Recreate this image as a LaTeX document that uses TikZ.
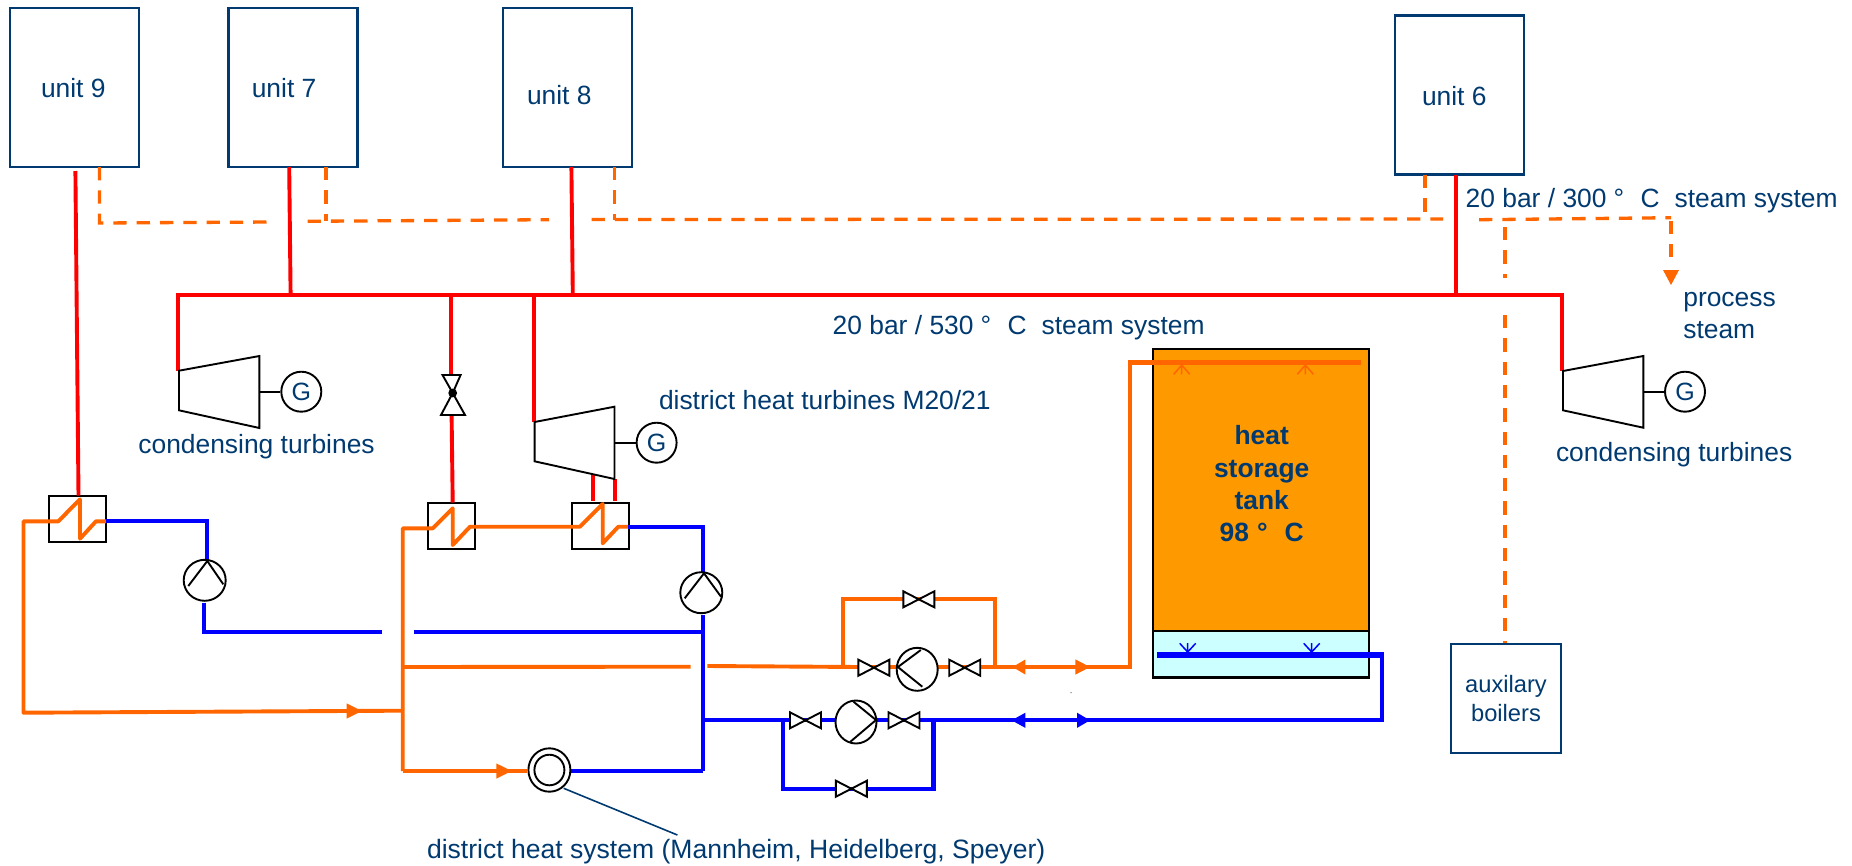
\documentclass[tikz,border=0pt]{standalone}
\usepackage{fontspec}
\setmainfont{Liberation Sans}
\usetikzlibrary{shapes.geometric}
\definecolor{navy}{HTML}{003A70}
\definecolor{pipeorange}{HTML}{FF6600}
\definecolor{pipered}{HTML}{FF0000}
\definecolor{pipeblue}{HTML}{0000FF}
\definecolor{tankorange}{HTML}{FF9900}
\definecolor{tankcyan}{HTML}{CCFFFF}
\newcommand{\valveat}[3]{%
  \node[valvenode] (#1) at (#2,#3) {};
  \draw[valveline] (#1.north west) -- (#1.south east) -- (#1.north east) -- (#1.south west) -- cycle;}
\newcommand{\tipright}[3]{\fill[pipeorange] (#1,#3-7.6) -- (#2,#3) -- (#1,#3+7.6) -- cycle;}
\newcommand{\tipleft}[4]{\fill[#4] (#1,#3-7.6) -- (#2,#3) -- (#1,#3+7.6) -- cycle;}
\newcommand{\dgsp}{\hspace{7pt}°\hspace{16.5pt}}
\tikzset{
  x=1pt,y=-1pt,
  lbl/.style={inner sep=0pt,outer sep=0pt,text=navy,anchor=base west,font=\fontsize{26.4pt}{32pt}\selectfont},
  unitbox/.style={draw=navy,line width=2.2pt,fill=white,inner sep=0pt},
  hxbox/.style={draw=black,line width=2.2pt,inner sep=0pt},
  gen/.style={draw=black,line width=1.9pt,circle,minimum size=40pt,inner sep=0pt,text=navy,font=\fontsize{25pt}{25pt}\selectfont},
  pumpnode/.style={draw=black,line width=1.9pt,ellipse,minimum width=42pt,minimum height=41pt,inner sep=0pt},
  valvenode/.style={inner sep=0pt,outer sep=0pt,minimum width=31pt,minimum height=16pt},
  valveline/.style={draw=black,fill=white,line width=1.9pt},
  blk/.style={draw=black,line width=1.9pt},
  redpipe/.style={draw=pipered,line width=3.9pt},
  orpipe/.style={draw=pipeorange,line width=3.9pt},
  blpipe/.style={draw=pipeblue,line width=4.2pt},
  steamdash/.style={draw=pipeorange,line width=3.3pt,dash pattern=on 13.3pt off 10pt},
}
\begin{document}
\begin{tikzpicture}
\useasboundingbox (0,0) rectangle (1852,865);
% tank
\fill[tankorange] (1153.3,349) rectangle (1369.3,630.7);
\fill[tankcyan] (1153.3,630.7) rectangle (1369.3,678.3);
\draw[black,line width=2.2pt] (1153.3,678.3) -- (1153.3,349) -- (1369.3,349) -- (1369.3,678.3);
\draw[black,line width=2.2pt] (1153.3,630.7) -- (1369.3,630.7);
\draw[black,line width=3.6pt] (1152.2,677.5) -- (1370.4,677.5);
\node[inner sep=0pt,align=center,text=navy,font=\fontsize{26.4pt}{32.3pt}\selectfont\bfseries] (tanklabel) at (1261.7,483.8) {heat\\storage\\tank\\98\hspace{8pt}°\hspace{17pt}C};
% units
\node[unitbox,minimum width=129pt,minimum height=159pt] (u9) at (74.3,87.2) {};
\node[unitbox,minimum width=129pt,minimum height=159pt] (u7) at (293,87.2) {};
\node[unitbox,minimum width=129pt,minimum height=159pt] (u8) at (567.5,87.2) {};
\node[unitbox,minimum width=129pt,minimum height=159pt] (u6) at (1459.5,95) {};
\node[lbl] (t9) at (41,97.7) {unit 9};
\node[lbl] (t7) at (251.8,97.7) {unit 7};
\node[lbl] (t8) at (527,104.3) {unit 8};
\node[lbl] (t6) at (1422,105) {unit 6};
\node[unitbox,minimum width=110.6pt,minimum height=109.3pt] (aux) at (1506,698.6) {};
\node[inner sep=0pt,align=center,text=navy,font=\fontsize{23.7pt}{29pt}\selectfont] (auxt) at (1506,698.5) {auxilary\\boilers};
% heat exchangers
\node[hxbox,minimum width=56.7pt,minimum height=46.6pt] (hx1) at (77.7,519) {};
\node[hxbox,minimum width=46.7pt,minimum height=46.3pt] (hx2) at (451.7,525.9) {};
\node[hxbox,minimum width=56.7pt,minimum height=46.3pt] (hx3) at (600.7,525.9) {};
% generators
\node[gen] (g1) at (301.3,391.7) {G};
\node[gen] (g2) at (656.6,442.7) {G};
\node[gen] (g3) at (1685,391.7) {G};
% junction coordinates
\coordinate (busL) at (178,295); \coordinate (busR) at (1561.6,295);
\coordinate (t1in) at (178,370.7); \coordinate (t3in) at (1561.6,370.7);
\coordinate (b7) at (290.6,295); \coordinate (b8) at (572.8,295); \coordinate (b6) at (1455.7,295);
\coordinate (bV) at (450.6,295); \coordinate (bM) at (533.8,295);
\coordinate (u9r) at (75.4,171); \coordinate (hx1r) at (78.5,495.5);
\coordinate (u7r) at (289.2,167); \coordinate (u8r) at (571.4,167); \coordinate (u6r) at (1455.7,175);
\coordinate (tMin) at (533.8,421.7);
\coordinate (vTop) at (450.6,376); \coordinate (vBot) at (451.6,415); \coordinate (hx2r) at (452.7,502.5);
% steam (red)
\draw[redpipe] (busL) -- (busR);
\draw[redpipe] (t1in) -- ([yshift=1.9pt]busL);
\draw[redpipe] ([yshift=1.9pt]busR) -- (t3in);
\draw[redpipe] (u9r) -- (hx1r);
\draw[redpipe] (u7r) -- (b7);
\draw[redpipe] (u8r) -- (b8);
\draw[redpipe] (u6r) -- (b6);
\draw[redpipe] (bV) -- (vTop);
\draw[redpipe] (vBot) -- (hx2r);
\draw[redpipe] (bM) -- (tMin);
\coordinate (s1a) at (592.7,475); \coordinate (s1b) at (592.7,501);
\coordinate (s2a) at (614.7,479); \coordinate (s2b) at (614.7,501);
\draw[redpipe] (s1a) -- (s1b);
\draw[redpipe] (s2a) -- (s2b);
% turbines
\coordinate (t1a) at (179,370.7); \coordinate (t1b) at (259.4,356); \coordinate (t1c) at (259.4,428); \coordinate (t1d) at (179,410.3);
\draw[blk] (t1a) -- (t1b) -- (t1c) -- (t1d) -- cycle;
\draw[blk] (259.4,391.7) -- (g1.west);
\coordinate (t2a) at (534.6,422); \coordinate (t2b) at (614.5,406.7); \coordinate (t2c) at (614.5,479); \coordinate (t2d) at (534.6,461.3);
\draw[blk] (t2a) -- (t2b) -- (t2c) -- (t2d) -- cycle;
\draw[blk] (614.5,442.7) -- (g2.west);
\coordinate (t3a) at (1563,371); \coordinate (t3b) at (1643.3,356); \coordinate (t3c) at (1643.3,427.7); \coordinate (t3d) at (1563,410.3);
\draw[blk] (t3a) -- (t3b) -- (t3c) -- (t3d) -- cycle;
\draw[blk] (1643.3,391.7) -- (g3.west);
% throttle valve
\draw[valveline] (442.5,375) -- (460.6,375) -- (452.7,393) -- (465,415) -- (441,415) -- (452.7,393) -- cycle;
\fill[black] (452.7,393) circle (4.4pt);
% 20 bar / 300 dashed
\draw[steamdash] (99.5,167) -- (99.5,223) -- (271,222);
\draw[steamdash] (307.6,221.3) -- (549,219.7);
\draw[steamdash] (326,167) -- (326,221);
\draw[steamdash] (591.5,219.5) -- (1443,219);
\draw[steamdash] (614.7,167) -- (614.7,219.5);
\draw[steamdash] (1425,175) -- (1425,219);
\draw[steamdash] (1479,219.7) -- (1671,217.7);
\draw[steamdash] (1671,220.5) -- (1671,258);
\draw[steamdash] (1505,227) -- (1505,278);
\draw[steamdash] (1505,315) -- (1505,643);
\fill[pipeorange] (1663,270) -- (1679,270) -- (1671,285) -- cycle;
% left exchanger loop
\coordinate (lbot) at (23.5,712.7); \coordinate (ltop) at (23.5,521.3);
\coordinate (z1a) at (58.3,521.3); \coordinate (z1b) at (80,499.3); \coordinate (z1c) at (80,538.7); \coordinate (z1d) at (96,521.3); \coordinate (z1e) at (106,521.3);
\coordinate (main) at (400.8,710.7);
\draw[orpipe,line join=round] (main) -- (lbot) -- (ltop) -- (z1a) -- (z1b) -- (z1c) -- (z1d) -- (z1e);
\tipright{346.7}{361.7}{711}
\coordinate (pu1in) at (206.7,560); \coordinate (pu1out) at (204.3,602.7); \coordinate (bl1) at (204.3,631.7);
\draw[blpipe] (z1e) -- (206.7,521.3) -- (pu1in);
\draw[blpipe] (pu1out) -- (bl1) -- (381.7,631.7);
\node[pumpnode] (pu1) at (204.7,580.3) {};
\draw[blk] (188.3,586) -- (207.3,561) -- (223.3,584.3);
% main orange collector and HX2/HX3
\coordinate (hxL) at (402.7,528.3); \coordinate (hxB) at (402.7,771);
\coordinate (z2a) at (432.7,528.3); \coordinate (z2b) at (452.7,508.3); \coordinate (z2c) at (452.7,545); \coordinate (z2d) at (470,526.7);
\coordinate (z3a) at (580,526.7); \coordinate (z3b) at (602.7,504); \coordinate (z3c) at (602.7,543.3); \coordinate (z3d) at (618.3,526.7); \coordinate (z3e) at (628.3,526.7);
\draw[orpipe,line join=round] (hxB) -- (hxL) -- (z2a) -- (z2b) -- (z2c) -- (z2d) -- (z3a) -- (z3b) -- (z3c) -- (z3d) -- (z3e);
\draw[blpipe] (z3e) -- (702.7,526.7) -- (702.7,572.7);
\node[pumpnode] (pu3) at (701.3,592.7) {};
\draw[blk] (684.7,598.3) -- (704,573.3) -- (721,596.7);
\coordinate (blj) at (702.6,615);
\coordinate (blb) at (702.6,771);
\draw[blpipe] (blj) -- (blb);
\draw[blpipe] (414.3,631.7) -- (702.6,631.7);
\draw[orpipe] (402.7,667) -- (690.7,666.7);
% hot line to tank
\coordinate (tankin) at (1361,362.7);
\draw[orpipe] (707.3,666) -- (860,667);
\draw[orpipe] (843.3,667) -- (843.3,599.3) -- (994.8,599.3) -- (994.8,667);
\draw[draw=pipeorange,line width=4.4pt] (860,667) -- (1130,667);
\draw[orpipe] (1130,668.9) -- (1130,362.7);
\draw[draw=pipeorange,line width=5.2pt] (1128,362.7) -- (tankin);
\tipleft{1025.4}{1012.7}{667}{pipeorange}
\tipleft{1075.4}{1090}{667}{pipeorange}
\valveat{vo1}{918.8}{599.3}
\valveat{vo2}{873.9}{667.7}
\valveat{vo3}{964.7}{667.7}
\node[pumpnode,fill=white,minimum width=41pt,minimum height=43pt] (puo) at (917.2,669.3) {};
\draw[blk] (920.8,650) -- (897.9,667) -- (922.3,686.7);
% district system
\node[draw=black,line width=1.9pt,ellipse,minimum width=42pt,minimum height=43.4pt,inner sep=0pt] (dh) at (549.4,770) {};
\node[draw=black,line width=1.9pt,ellipse,minimum width=30pt,minimum height=30.6pt,inner sep=0pt] (dhi) at (549.4,770) {};
\draw[orpipe] (hxB) -- (dh.west |- hxB);
\tipright{496.3}{511.6}{771}
\draw[blpipe] (dh.east |- blb) -- (blb);
\coordinate (ldr) at (677.4,835);
\draw[navy,line width=1.6pt] (563.7,788.3) -- (ldr);
% cold return
\draw[blpipe] (702.6,720.3) -- (1382,720.3) -- (1382,655);
\draw[draw=pipeblue,line width=5.2pt] (1384,655) -- (1157.3,655);
\draw[draw=pipeblue,line width=4.6pt] (783,720.3) -- (783,789) -- (933.6,789) -- (933.6,720.3);
\tipleft{1025.4}{1011.6}{720.3}{pipeblue}
\tipleft{1077}{1090}{720.3}{pipeblue}
\valveat{vb1}{805.5}{720.3}
\valveat{vb2}{904}{720.3}
\valveat{vb3}{851.4}{788.7}
\node[pumpnode,fill=white,minimum width=41pt,minimum height=43pt] (pub) at (856,722) {};
\draw[blk] (853.5,701.7) -- (876,720) -- (850.4,741.7);
% tank headers
\draw[pipeorange,line width=1.5pt] (1173.7,374.3) -- (1181.7,365) -- (1189.7,374.3) (1181.7,363) -- (1181.7,374.3);
\draw[pipeorange,line width=1.5pt] (1297.3,374.3) -- (1305.3,365) -- (1313.3,374.3) (1305.3,363) -- (1305.3,374.3);
\draw[pipeblue,line width=1.5pt] (1179.7,643.3) -- (1187.7,652) -- (1195.7,643.3) (1187.7,643) -- (1187.7,655);
\draw[pipeblue,line width=1.5pt] (1303.7,643.3) -- (1311.7,652) -- (1319.7,643.3) (1311.7,643) -- (1311.7,655);
\fill[black!60] (1071,692.7) circle (0.7pt);
% labels
\node[lbl] (c1) at (138.4,453.8) {condensing turbines};
\node[lbl] (c3) at (1556,461) {condensing turbines};
\node[lbl] (dt) at (659,409) {district heat turbines M20/21};
\node[lbl] (s530) at (832.7,334) {20 bar / 530\dgsp C\hspace{15pt}steam system};
\node[lbl] (s300) at (1465.7,207.3) {20 bar / 300\dgsp C\hspace{15pt}steam system};
\node[lbl] (p1) at (1683.3,306) {process};
\node[lbl] (p2) at (1683.3,338) {steam};
\node[lbl,font=\fontsize{26.55pt}{32pt}\selectfont] (dh1) at (427,858) {district heat system (Mannheim, Heidelberg, Speyer)};
\end{tikzpicture}
\end{document}
